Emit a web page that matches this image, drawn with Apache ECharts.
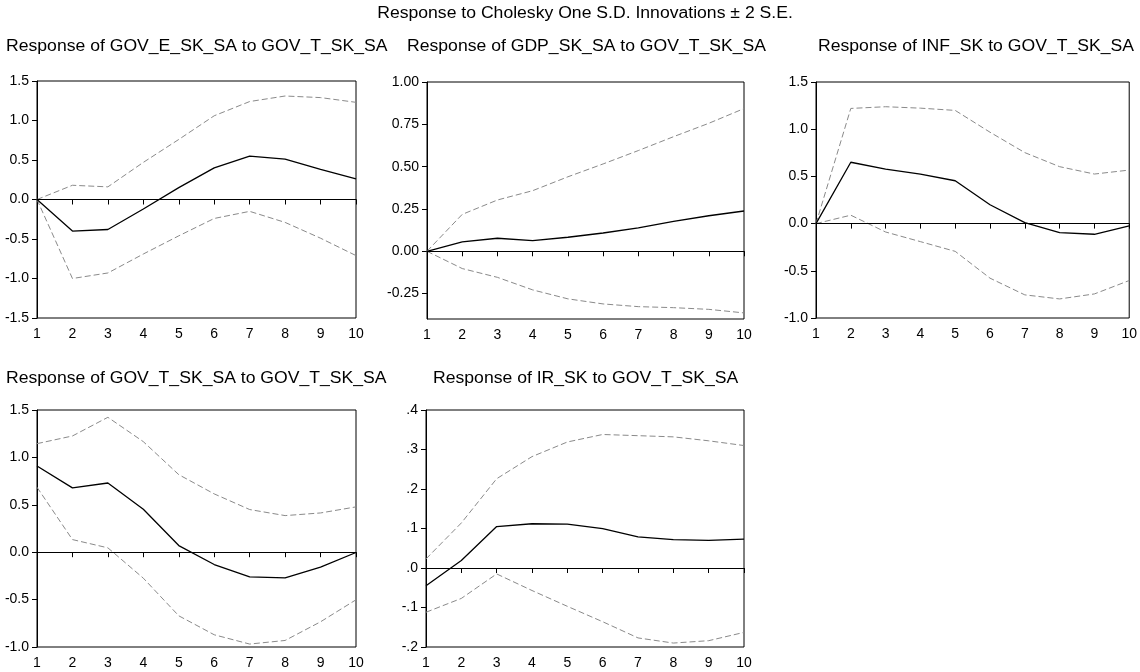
<!DOCTYPE html>
<html>
<head>
<meta charset="utf-8">
<script src="https://cdn.jsdelivr.net/npm/echarts@6/dist/echarts.min.js"></script>
<style>
  html, body { margin: 0; padding: 0; background: #fff; }
  #chart { width: 1140px; height: 672px; }
</style>
</head>
<body>
<div id="chart"></div>
<script>
// Periods after the shock
const periods = [1, 2, 3, 4, 5, 6, 7, 8, 9, 10];

const mainTitle = 'Response to Cholesky One S.D. Innovations \u00b1 2 S.E.';

// Response of GOV_E_SK_SA
const govE_resp  = [0, -0.40, -0.38, -0.12, 0.15, 0.40, 0.55, 0.51, 0.38, 0.26];
const govE_upper = [0, 0.18, 0.16, 0.47, 0.76, 1.06, 1.24, 1.31, 1.29, 1.23];
const govE_lower = [0, -1.00, -0.93, -0.69, -0.46, -0.24, -0.15, -0.29, -0.49, -0.71];

// Response of GDP_SK_SA
const gdp_resp  = [0, 0.055, 0.077, 0.063, 0.083, 0.108, 0.138, 0.177, 0.21, 0.238];
const gdp_upper = [0, 0.218, 0.303, 0.358, 0.44, 0.516, 0.595, 0.677, 0.756, 0.843];
const gdp_lower = [0, -0.102, -0.154, -0.228, -0.281, -0.311, -0.327, -0.333, -0.343, -0.364];

// Response of INF_SK
const inf_resp  = [0, 0.65, 0.578, 0.525, 0.454, 0.20, 0.01, -0.096, -0.113, -0.025];
const inf_upper = [0, 1.22, 1.238, 1.223, 1.199, 0.968, 0.752, 0.603, 0.525, 0.567];
const inf_lower = [0, 0.089, -0.089, -0.191, -0.294, -0.578, -0.755, -0.798, -0.745, -0.603];

// Response of GOV_T_SK_SA
const govT_resp  = [0.91, 0.678, 0.73, 0.453, 0.07, -0.13, -0.26, -0.27, -0.158, -0.003];
const govT_upper = [1.145, 1.226, 1.423, 1.166, 0.818, 0.615, 0.45, 0.386, 0.414, 0.478];
const govT_lower = [0.685, 0.133, 0.046, -0.274, -0.671, -0.871, -0.969, -0.931, -0.734, -0.502];

// Response of IR_SK
const ir_resp  = [-0.045, 0.019, 0.105, 0.112, 0.111, 0.0996, 0.079, 0.072, 0.070, 0.073];
const ir_upper = [0.023, 0.114, 0.226, 0.282, 0.319, 0.338, 0.335, 0.332, 0.322, 0.310];
const ir_lower = [-0.112, -0.077, -0.015, -0.057, -0.097, -0.136, -0.177, -0.190, -0.184, -0.163];

// Tick values on each vertical axis
const govE_ticks = [-1.5, -1.0, -0.5, 0, 0.5, 1.0, 1.5];
const gdp_ticks  = [-0.25, 0, 0.25, 0.5, 0.75, 1.0];
const inf_ticks  = [-1.0, -0.5, 0, 0.5, 1.0, 1.5];
const govT_ticks = [-1.0, -0.5, 0, 0.5, 1.0, 1.5];
const ir_ticks   = [-0.2, -0.1, 0, 0.1, 0.2, 0.3, 0.4];

const FONT = '"Liberation Sans", Arial, sans-serif';
const TITLE_FONT = '16px ' + FONT;
const TITLE_STRETCH = 1.1;

const fmt1 = v => v.toFixed(1);
const fmt2 = v => v.toFixed(2);
const fmtNoLead = v => v.toFixed(1).replace(/^(-?)0\./, '$1.');

const panels = [
  { title: 'Response of GOV_E_SK_SA to GOV_T_SK_SA', tx: 6, ty: 47,
    grid: { left: 37, top: 81, width: 319, height: 237 },
    min: -1.5, max: 1.5, ticks: govE_ticks, fmt: fmt1,
    resp: govE_resp, upper: govE_upper, lower: govE_lower },
  { title: 'Response of GDP_SK_SA to GOV_T_SK_SA', tx: 407, ty: 47,
    grid: { left: 427, top: 82, width: 317, height: 237 },
    min: -0.4, max: 1.0, ticks: gdp_ticks, fmt: fmt2,
    resp: gdp_resp, upper: gdp_upper, lower: gdp_lower },
  { title: 'Response of INF_SK to GOV_T_SK_SA', tx: 818, ty: 47,
    grid: { left: 816, top: 82, width: 322, height: 236 },
    min: -1.0, max: 1.5, ticks: inf_ticks, fmt: fmt1,
    resp: inf_resp, upper: inf_upper, lower: inf_lower },
  { title: 'Response of GOV_T_SK_SA to GOV_T_SK_SA', tx: 6, ty: 379,
    grid: { left: 37, top: 410, width: 319, height: 237 },
    min: -1.0, max: 1.5, ticks: govT_ticks, fmt: fmt1,
    resp: govT_resp, upper: govT_upper, lower: govT_lower },
  { title: 'Response of IR_SK to GOV_T_SK_SA', tx: 433, ty: 379,
    grid: { left: 426, top: 410, width: 318, height: 237 },
    min: -0.2, max: 0.4, ticks: ir_ticks, fmt: fmtNoLead,
    resp: ir_resp, upper: ir_upper, lower: ir_lower }
];

const pairs = arr => periods.map((p, i) => [p, arr[i]]);

// Headings are drawn as text elements, slightly widened like the EViews output
const headings = [{
  type: 'text', x: 585, y: 14, scaleX: TITLE_STRETCH, silent: true,
  style: { text: mainTitle, font: TITLE_FONT, fill: '#000',
           textAlign: 'center', textVerticalAlign: 'middle' }
}].concat(panels.map(p => ({
  type: 'text', x: p.tx, y: p.ty, scaleX: TITLE_STRETCH, silent: true,
  style: { text: p.title, font: TITLE_FONT, fill: '#000',
           textAlign: 'left', textVerticalAlign: 'middle' }
})));

const option = {
  backgroundColor: '#ffffff',
  animation: false,
  graphic: headings,
  grid: panels.map(p => Object.assign({
    show: true, borderColor: '#000', borderWidth: 1, backgroundColor: '#fff'
  }, p.grid)),
  xAxis: panels.map((p, i) => ({
    type: 'value', gridIndex: i, min: 1, max: 10, interval: 1,
    axisLine: { show: true, lineStyle: { color: '#000', width: 1 } },
    axisTick: { show: true, length: 5, lineStyle: { color: '#000' } },
    axisLabel: { fontFamily: FONT, fontSize: 14, color: '#000', margin: 9 },
    splitLine: { show: false }
  })),
  yAxis: panels.map((p, i) => ({
    type: 'value', gridIndex: i, min: p.min, max: p.max,
    axisLine: { show: true, lineStyle: { color: '#000', width: 1 } },
    axisTick: { show: true, length: 5, customValues: p.ticks, lineStyle: { color: '#000' } },
    axisLabel: { fontFamily: FONT, fontSize: 14, color: '#000', margin: 8,
                 customValues: p.ticks, formatter: p.fmt },
    splitLine: { show: false }
  })),
  series: []
};

panels.forEach((p, i) => {
  option.series.push({
    type: 'line', xAxisIndex: i, yAxisIndex: i, data: pairs(p.upper),
    symbol: 'none', silent: true,
    lineStyle: { color: '#8a8a8a', width: 1, type: [6, 3] }
  });
  option.series.push({
    type: 'line', xAxisIndex: i, yAxisIndex: i, data: pairs(p.lower),
    symbol: 'none', silent: true,
    lineStyle: { color: '#8a8a8a', width: 1, type: [6, 3] }
  });
  option.series.push({
    type: 'line', xAxisIndex: i, yAxisIndex: i, data: pairs(p.resp),
    symbol: 'none', silent: true,
    lineStyle: { color: '#000', width: 1.3 },
    markLine: {
      silent: true, symbol: 'none', label: { show: false },
      lineStyle: { color: '#000', width: 1, type: 'solid' },
      data: [{ yAxis: 0 }]
    }
  });
});

const chart = echarts.init(document.getElementById('chart'), null, { renderer: 'canvas' });
chart.setOption(option);
</script>
</body>
</html>
